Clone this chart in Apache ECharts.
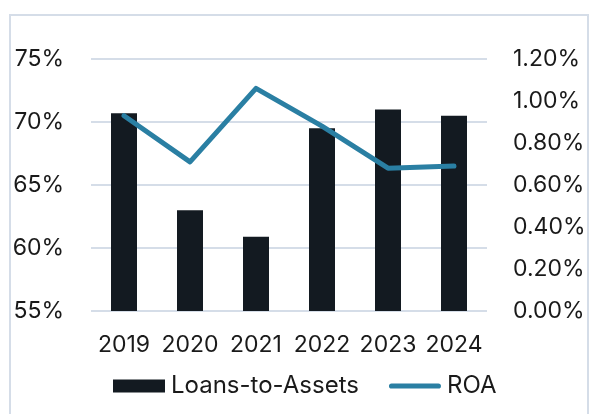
<!DOCTYPE html>
<html>
<head>
<meta charset="utf-8">
<script src="https://cdn.jsdelivr.net/npm/echarts@6/dist/echarts.min.js"></script>
<style>
  html, body { margin: 0; padding: 0; background: #fff; }
  #chart { width: 589px; height: 414px; }
</style>
</head>
<body>
<div id="chart"></div>
<script>
var years = ['2019', '2020', '2021', '2022', '2023', '2024'];
var loansToAssets = [70.7, 63.0, 60.9, 69.5, 71.0, 70.5];
var roa = [0.93, 0.71, 1.06, 0.88, 0.68, 0.69];
var leftTicks = [55, 75, 5];
var rightTicks = [0, 1.2, 0.2];

var chart = echarts.init(document.getElementById('chart'), null, { renderer: 'canvas' });
var font = 'Inter';
var option = {
    animation: false,
    textStyle: { fontFamily: font },
    graphic: [{
        type: 'rect',
        shape: { x: 10, y: 15, width: 578, height: 420 },
        style: { fill: 'none', stroke: '#d5dde8', lineWidth: 2 }
    }],
    grid: { left: 91, right: 102, top: 59, bottom: 103 },
    legend: {
        top: 369,
        left: 108,
        itemWidth: 52,
        itemHeight: 13,
        itemGap: 30,
        textStyle: { fontFamily: font, fontSize: 24, color: '#1a1a1a', padding: [0, 0, 0, 1] },
        data: [
            { name: 'Loans-to-Assets', icon: 'rect' },
            { name: 'ROA', icon: 'path://M5,0 H95 A5,5 0 0 1 95,10 H5 A5,5 0 0 1 5,0 Z' }
        ]
    },
    xAxis: {
        type: 'category',
        data: years,
        axisLine: { show: false },
        axisTick: { show: false },
        axisLabel: { fontSize: 23, color: '#1a1a1a', margin: 23, interval: 0, hideOverlap: false }
    },
    yAxis: [{
        type: 'value',
        min: leftTicks[0],
        max: leftTicks[1],
        interval: leftTicks[2],
        axisLabel: { formatter: '{value}%', fontSize: 23, color: '#1a1a1a', margin: 27 },
        splitLine: { lineStyle: { color: '#d5dde8', width: 2 } }
    }, {
        type: 'value',
        min: rightTicks[0],
        max: rightTicks[1],
        interval: rightTicks[2],
        axisLabel: {
            formatter: function (v) { return v.toFixed(2) + '%'; },
            fontSize: 23, color: '#1a1a1a', margin: 26
        },
        splitLine: { show: false }
    }],
    series: [{
        name: 'Loans-to-Assets',
        type: 'bar',
        data: loansToAssets,
        barWidth: 26,
        itemStyle: { color: '#131a21' }
    }, {
        name: 'ROA',
        type: 'line',
        yAxisIndex: 1,
        data: roa,
        symbol: 'none',
        lineStyle: { color: '#2a7fa3', width: 5, cap: 'round', join: 'round' },
        itemStyle: { color: '#2a7fa3' }
    }]
};
chart.setOption(option);
</script>
</body>
</html>
